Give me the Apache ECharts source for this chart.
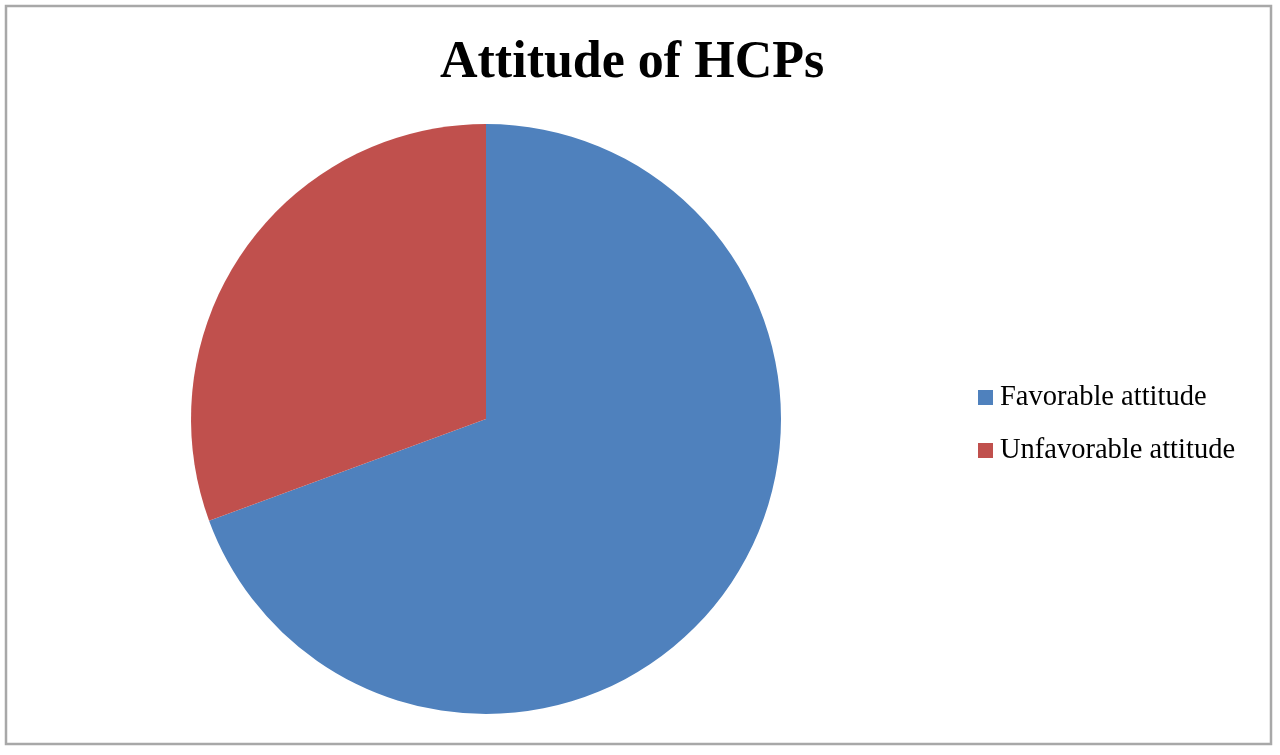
<!DOCTYPE html>
<html>
<head>
<meta charset="utf-8">
<script src="https://cdn.jsdelivr.net/npm/echarts@6/dist/echarts.min.js"></script>
<style>
html,body{margin:0;padding:0;background:#fff;}
#chart{width:1280px;height:755px;}
</style>
</head>
<body>
<div id="chart"></div>
<script>
const categories = ['Favorable attitude', 'Unfavorable attitude'];
const values = [69.4, 30.6];
const colors = ['#4F81BD', '#C0504D'];
const titleText = 'Attitude of HCPs';

const chart = echarts.init(document.getElementById('chart'), null, {renderer: 'canvas'});
chart.setOption({
  backgroundColor: '#ffffff',
  animation: false,
  title: {
    text: titleText,
    left: 435,
    top: 33,
    textStyle: {fontFamily: 'Liberation Serif', fontSize: 52, fontWeight: 'bold', color: '#000'}
  },
  legend: {
    orient: 'vertical',
    left: 978,
    top: 383,
    padding: 0,
    itemWidth: 15,
    itemHeight: 15,
    itemGap: 24,
    icon: 'rect',
    data: categories,
    textStyle: {fontFamily: 'Liberation Serif', fontSize: 28.5, lineHeight: 28, color: '#000', padding: [0,0,0,2]}
  },
  graphic: [{
    type: 'rect',
    shape: {x: 6, y: 6, width: 1265, height: 738},
    style: {fill: 'none', stroke: '#a8a8a8', lineWidth: 2.5},
    silent: true
  }],
  series: [{
    type: 'pie',
    center: [486, 419],
    radius: 295,
    startAngle: 90,
    clockwise: true,
    label: {show: false},
    labelLine: {show: false},
    emphasis: {disabled: true},
    itemStyle: {borderWidth: 0},
    data: categories.map((c, i) => ({name: c, value: values[i], itemStyle: {color: colors[i]}}))
  }]
});
</script>
</body>
</html>
